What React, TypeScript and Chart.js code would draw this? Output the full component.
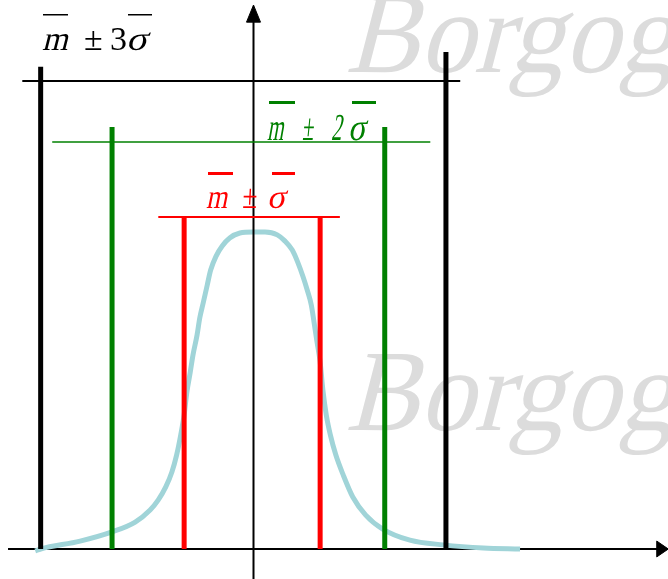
import { useEffect, useRef } from 'react';
import { Chart, registerables } from 'chart.js';

Chart.register(...registerables);

// Bell curve, x in units of sigma from the vertical axis, y normalised to the peak
const curveX = [
  -3.21, -3.13, -2.55, -2.08, -1.74, -1.52, -1.4, -1.29, -1.2, -1.13, -1.07, -1.02,
  -0.98, -0.93, -0.89, -0.83, -0.79, -0.74, -0.68, -0.63, -0.55, -0.46, -0.35, -0.2,
  -0.01, 0.17, 0.35, 0.46, 0.57, 0.65, 0.73, 0.79, 0.85, 0.89, 0.93, 0.98, 1.02, 1.07,
  1.13, 1.21, 1.32, 1.46, 1.65, 1.9, 2.3, 2.79, 3.38, 3.92,
];
const curveY = [
  -0.006, 0.0, 0.025, 0.054, 0.085, 0.123, 0.155, 0.196, 0.243, 0.297, 0.36, 0.423,
  0.495, 0.558, 0.612, 0.675, 0.729, 0.776, 0.833, 0.88, 0.924, 0.956, 0.981, 0.997,
  1.0, 1.0, 0.991, 0.972, 0.943, 0.905, 0.858, 0.817, 0.77, 0.716, 0.659, 0.59, 0.502,
  0.423, 0.36, 0.297, 0.233, 0.164, 0.107, 0.063, 0.028, 0.013, 0.003, 0.0,
];

// Limits of the m ± σ, m ± 2σ, m ± 3σ bands
const bandNames = ['m ± σ', 'm ± 2σ', 'm ± 3σ'];
const leftLimit = [-1.02, -2.08, -3.13];
const rightLimit = [0.98, 1.93, 2.83];
const leftTop = [1.047, 1.331, 1.521];
const rightTop = [1.047, 1.331, 1.568];
const bandLevel = [1.047, 1.284, 1.476];
const bandFrom = [-1.4, -2.96, -3.4];
const bandTo = [1.27, 2.6, 3.04];
const bandColor = ['#ff0000', '#008000', '#000000'];

// Coordinate axes with arrow heads
const xAxisX = [-3.61, 5.98];
const xArrowX = [5.93, 6.1, 5.93, 5.93];
const xArrowY = [0.025, 0, -0.025, 0.025];
const yAxisY = [-0.095, 1.67];
const yArrowX = [-0.103, 0, 0.103, -0.103];
const yArrowY = [1.662, 1.716, 1.662, 1.662];

const X_MIN = -253.5 / 68;
const X_MAX = (668 - 253.5) / 68;
const Y_MIN = (549 - 579) / 317;
const Y_MAX = 549 / 317;

const SERIF = '"Liberation Serif", "Times New Roman", Times, serif';

const pts = (xs: number[], ys: number[]) => xs.map((x, i) => ({ x, y: ys[i] }));

const line = (label: string, xs: number[], ys: number[], color: string, width: number, order: number, extra: any = {}) => ({
  label,
  data: pts(xs, ys),
  borderColor: color,
  backgroundColor: color,
  borderWidth: width,
  borderCapStyle: 'butt',
  pointRadius: 0,
  tension: 0,
  fill: false,
  order,
  ...extra,
});

// Text drawn with an explicit slant (and optional horizontal squeeze)
const glyph = (ctx: any, text: string, x: number, y: number, size: number, sx: number, slant: number) => {
  ctx.save();
  ctx.translate(x, y);
  ctx.transform(1, 0, -slant, 1, 0, 0);
  ctx.scale(sx, 1);
  ctx.font = `${size}px ${SERIF}`;
  ctx.fillText(text, 0, 0);
  ctx.restore();
};

const watermark = {
  id: 'watermark',
  beforeDatasetsDraw(chart: any) {
    const ctx = chart.ctx;
    ctx.save();
    ctx.fillStyle = '#dcdcdc';
    ctx.textBaseline = 'alphabetic';
    ctx.textAlign = 'left';
    glyph(ctx, 'Borgog', 345, 72, 116, 0.95, 0.26);
    glyph(ctx, 'Borgog', 345, 430, 116, 0.95, 0.26);
    ctx.restore();
  },
};

const bandLabels = {
  id: 'bandLabels',
  afterDatasetsDraw(chart: any) {
    const ctx = chart.ctx;
    ctx.save();
    ctx.textBaseline = 'alphabetic';
    ctx.textAlign = 'left';

    // m ± 3σ
    ctx.fillStyle = '#000000';
    glyph(ctx, 'm', 42, 50, 34, 0.97, 0.25);
    glyph(ctx, '±', 84, 50, 34, 1, 0);
    glyph(ctx, '3', 110, 50, 34, 1, 0);
    glyph(ctx, 'σ', 126, 50, 34, 1.15, 0.25);
    ctx.fillRect(43, 14, 25, 1.5);
    ctx.fillRect(128, 14, 24, 1.5);

    // m ± 2σ
    ctx.fillStyle = bandColor[1];
    glyph(ctx, 'm', 267, 140, 38, 0.55, 0.18);
    glyph(ctx, '±', 302, 140, 38, 0.55, 0.1);
    glyph(ctx, '2', 331, 140, 38, 0.55, 0.18);
    glyph(ctx, 'σ', 348, 140, 38, 0.85, 0.18);
    ctx.fillRect(269, 101, 26, 3);
    ctx.fillRect(352, 101, 24, 3);

    // m ± σ
    ctx.fillStyle = bandColor[0];
    glyph(ctx, 'm', 206, 208, 34, 0.8, 0.2);
    glyph(ctx, '±', 242, 208, 34, 0.8, 0.05);
    glyph(ctx, 'σ', 267, 208, 34, 1.0, 0.2);
    ctx.fillRect(208, 172, 25, 3);
    ctx.fillRect(272, 172, 23, 3);
    ctx.restore();
  },
};

export default function App() {
  const ref = useRef<HTMLCanvasElement>(null);

  useEffect(() => {
    if (!ref.current) return;
    const datasets: any[] = [];

    datasets.push(line('x axis', xAxisX, [0, 0], '#000000', 2, 60));
    datasets.push(line('x arrow', xArrowX, xArrowY, '#000000', 1, 59, { fill: 'shape' }));
    datasets.push(line('curve', curveX, curveY, '#a0d4d8', 5, 50, { cubicInterpolationMode: 'monotone' }));
    datasets.push(line('y axis', [0, 0], yAxisY, '#000000', 2, 40));
    datasets.push(line('y arrow', yArrowX, yArrowY, '#000000', 1, 39, { fill: 'shape' }));

    bandNames.forEach((name, i) => {
      datasets.push(line(name + ' left', [leftLimit[i], leftLimit[i]], [0, leftTop[i]], bandColor[i], 5, 30 - i));
      datasets.push(line(name + ' right', [rightLimit[i], rightLimit[i]], [0, rightTop[i]], bandColor[i], 5, 30 - i));
      datasets.push(line(name + ' level', [bandFrom[i], bandTo[i]], [bandLevel[i], bandLevel[i]], bandColor[i], i === 1 ? 1.5 : 2, 20 - i));
    });

    const chart = new Chart(ref.current, {
      type: 'line',
      data: { datasets },
      options: {
        animation: false,
        responsive: false,
        devicePixelRatio: 1,
        layout: { padding: 0 },
        plugins: { legend: { display: false }, tooltip: { enabled: false } },
        events: [],
        scales: {
          x: { type: 'linear', min: X_MIN, max: X_MAX, display: false },
          y: { type: 'linear', min: Y_MIN, max: Y_MAX, display: false },
        },
      } as any,
      plugins: [watermark, bandLabels],
    });
    return () => chart.destroy();
  }, []);

  return (
    <div style={{ position: 'absolute', left: 0, top: 0, width: 668, height: 579, background: '#ffffff' }}>
      <canvas ref={ref} width={668} height={579} style={{ display: 'block', width: 668, height: 579 }} />
    </div>
  );
}
